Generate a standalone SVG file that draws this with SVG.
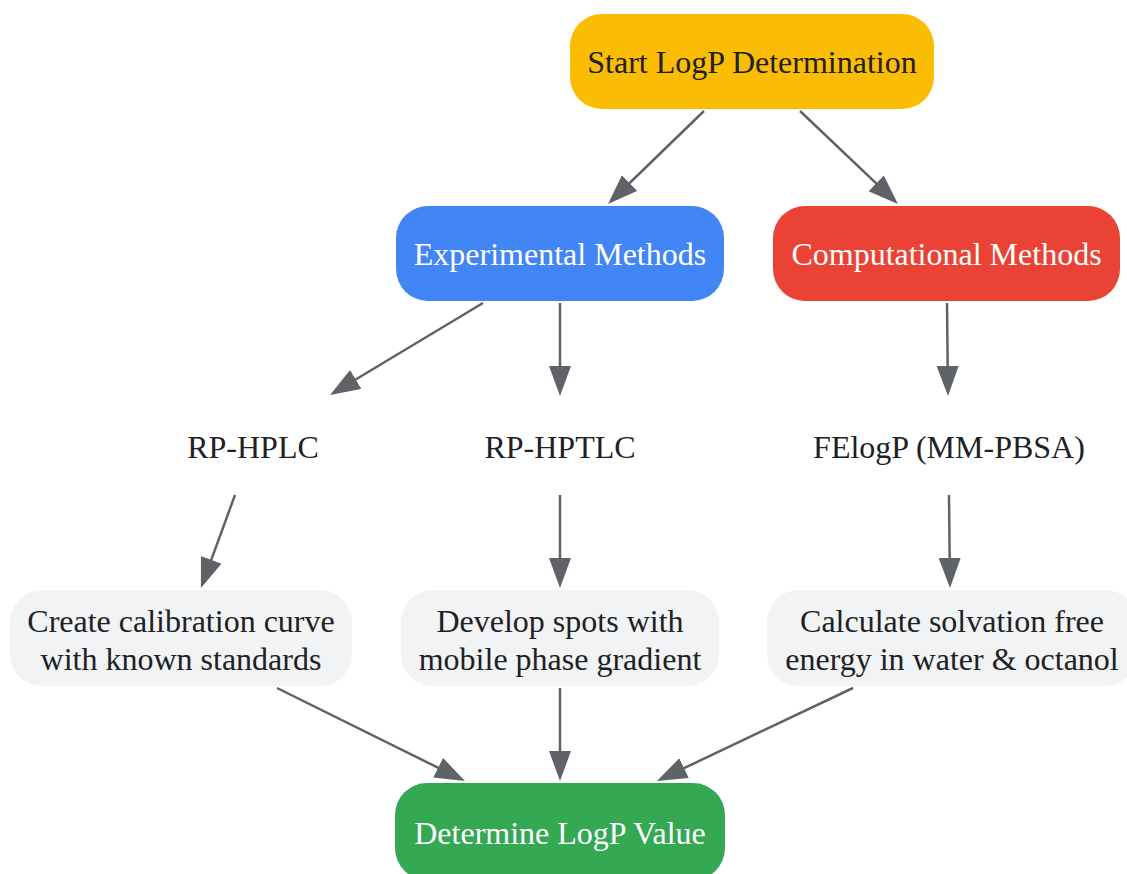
<svg xmlns="http://www.w3.org/2000/svg" width="1127" height="874" viewBox="0 0 1127 874">
<defs>
<marker id="ah" markerUnits="userSpaceOnUse" markerWidth="30" markerHeight="22" viewBox="0 0 30 22" refX="20" refY="11" orient="auto">
<path d="M0,0 L30,11 L0,22 z" fill="#5F6368"/>
</marker>
<style>
.t{font-family:"Liberation Serif","Times New Roman",serif;font-size:32px;text-anchor:middle;fill:#202124}
.w{fill:#ffffff}
.e{stroke:#5F6368;stroke-width:2.5;fill:none;marker-end:url(#ah)}
</style>
</defs>
<rect width="1127" height="874" fill="#ffffff"/>
<g id="edges">
<path class="e" d="M704,111 L615.2,197"/>
<path class="e" d="M800,111 L890.7,197.1"/>
<path class="e" d="M483,303 L338.6,389.8"/>
<path class="e" d="M560,303 L560,386"/>
<path class="e" d="M947,303 L947.9,386"/>
<path class="e" d="M235,495 L204.4,578.6"/>
<path class="e" d="M560,495 L560,578"/>
<path class="e" d="M949,495 L949.9,578"/>
<path class="e" d="M277,688 L456,776.6"/>
<path class="e" d="M560,688 L560,771"/>
<path class="e" d="M853,688 L666,776.7"/>
</g>
<g id="start">
<rect x="570" y="14" width="364" height="95" rx="32" fill="#FBBC04"/>
<text class="t" x="752" y="73">Start LogP Determination</text>
</g>
<g id="experimental">
<rect x="396" y="206" width="328" height="95" rx="32" fill="#4285F4"/>
<text class="t w" x="560" y="265">Experimental Methods</text>
</g>
<g id="computational">
<rect x="773" y="206" width="347" height="95" rx="32" fill="#EA4335"/>
<text class="t w" x="946.5" y="265">Computational Methods</text>
</g>
<g id="rphplc">
<text class="t" x="253" y="458">RP-HPLC</text>
</g>
<g id="rphptlc">
<text class="t" x="560" y="458">RP-HPTLC</text>
</g>
<g id="felogp">
<text class="t" x="949" y="458">FElogP (MM-PBSA)</text>
</g>
<g id="calibration">
<rect x="10" y="590" width="342" height="96" rx="32" fill="#F1F3F4"/>
<text class="t" x="181" y="632">Create calibration curve</text>
<text class="t" x="181" y="670">with known standards</text>
</g>
<g id="develop">
<rect x="401" y="590" width="318" height="96" rx="32" fill="#F1F3F4"/>
<text class="t" x="560" y="632">Develop spots with</text>
<text class="t" x="560" y="670">mobile phase gradient</text>
</g>
<g id="calculate">
<rect x="767" y="590" width="370" height="96" rx="32" fill="#F1F3F4"/>
<text class="t" x="952" y="632">Calculate solvation free</text>
<text class="t" x="952" y="670">energy in water &amp; octanol</text>
</g>
<g id="determine">
<rect x="395" y="783" width="330" height="97" rx="32" fill="#34A853"/>
<text class="t w" x="560" y="844">Determine LogP Value</text>
</g>
</svg>
